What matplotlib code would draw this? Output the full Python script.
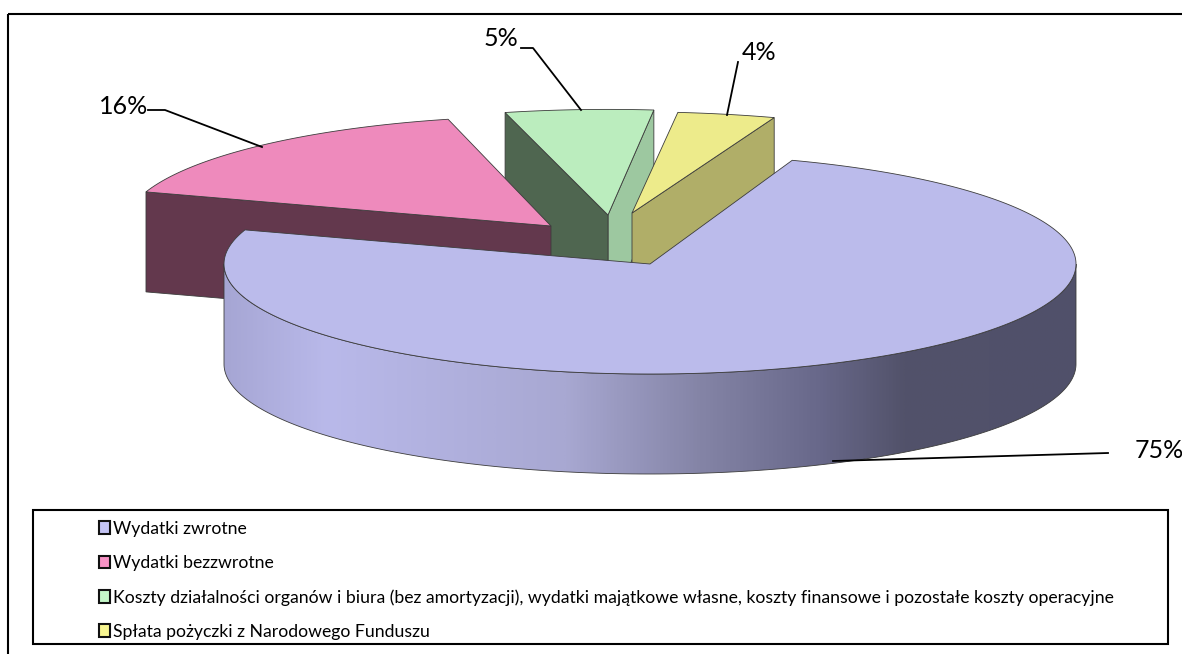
import numpy as np
import matplotlib
matplotlib.use("Agg")
import matplotlib.pyplot as plt
from matplotlib.colors import LinearSegmentedColormap
from matplotlib.patches import Polygon, Rectangle, PathPatch
from matplotlib.path import Path

plt.rcParams["font.family"] = ["Lato", "DejaVu Sans"]

# dane
kategorie = [
    "Wydatki zwrotne",
    "Wydatki bezzwrotne",
    "Koszty działalności organów i biura (bez amortyzacji), wydatki majątkowe własne, koszty finansowe i pozostałe koszty operacyjne",
    "Spłata pożyczki z Narodowego Funduszu",
]
udzialy = [74.6, 16.1, 5.6, 3.7]
etykiety = ["75%", "16%", "5%", "4%"]

# kolory: gora, sciana boczna ciecia
kolor_gora = ["#BBBBEB", "#EE8ABC", "#BBEDBE", "#EDEB8B"]
kolor_ciecie = ["#52526A", "#63384D", "#4F6650", "#B0AE68"]
kolor_ciecie2 = [None, None, "#9DC8A0", None]
kolor_legenda = ["#C4C4F5", "#F792C5", "#C4F7C8", "#F7F590"]

# wspolrzedne ekranu w pikselach
srodki = [(650, 264), (551, 226), (608, 215), (632, 213)]
skala = [1.0, 1.0, 0.96, 0.92]
A = 426
B = 110
H = 100
START = 70.5

# kąty wycinkow liczone z wartosci
katy = []
k = START
for u in udzialy:
    k2 = k - u * 3.6
    katy.append((k, k2))
    k = k2


def luk(c, s, a1, a2, dy=0, n=200):
    t = np.radians(np.linspace(a1, a2, n))
    return np.column_stack([c[0] + A * np.cos(t), c[1] - B * s * np.sin(t) + dy])


def punkt(c, s, a):
    return luk(c, s, a, a, n=1)[0]


fig = plt.figure(figsize=(11.82, 6.54), dpi=100)
ax = fig.add_axes([0, 0, 1, 1])
ax.set_xlim(0, 1182)
ax.set_ylim(654, 0)
ax.axis("off")

# ramki (zewnetrzna wychodzi poza obraz z prawej i z dolu)
ax.add_patch(Rectangle((8, 14), 1300, 700, fill=False, ec="black", lw=1.5))
ax.add_patch(Rectangle((33, 510), 1135, 134, fill=False, ec="black", lw=1.5))

krawedz = dict(ec="#3c3c3c", lw=0.6)


def sciana_ciecia(i, a, kolor):
    c, s = srodki[i], skala[i]
    p = punkt(c, s, a)
    pts = [p, c, (c[0], c[1] + H), (p[0], p[1] + H)]
    ax.add_patch(Polygon(pts, closed=True, fc=kolor, **krawedz))


def gora(i):
    c, s = srodki[i], skala[i]
    a1, a2 = katy[i]
    pts = np.vstack([[c], luk(c, s, a1, a2)])
    ax.add_patch(Polygon(pts, closed=True, fc=kolor_gora[i], **krawedz))


# wycinek 3 (zielony)
sciana_ciecia(2, katy[2][1], kolor_ciecie2[2])
sciana_ciecia(2, katy[2][0], kolor_ciecie[2])
gora(2)

# wycinek 4 (zolty)
sciana_ciecia(3, katy[3][1], kolor_ciecie[3])
gora(3)

# wycinek 2 (rozowy)
sciana_ciecia(1, katy[1][0], kolor_ciecie[1])
gora(1)

# wycinek 1: sciana z gradientem
c = srodki[0]
g = luk(c, 1, 180, 360)
d = luk(c, 1, 360, 180, dy=H)
sciana = np.vstack([g, d, g[:1]])
kody = [Path.MOVETO] + [Path.LINETO] * (len(sciana) - 2) + [Path.CLOSEPOLY]
patch = PathPatch(Path(sciana, kody), fc="none", **krawedz, zorder=2)
ax.add_patch(patch)
gradient = LinearSegmentedColormap.from_list(
    "sciana",
    [
        (0.0, "#A6A6D4"),
        (0.12, "#B9B9EA"),
        (0.40, "#A8A8D2"),
        (0.56, "#8484A6"),
        (0.70, "#68688A"),
        (0.80, "#52526A"),
        (1.0, "#50506A"),
    ],
)
im = ax.imshow(
    np.linspace(0, 1, 512).reshape(1, -1),
    cmap=gradient,
    extent=(c[0] - A, c[0] + A, c[1] + B + H, c[1]),
    aspect="auto",
    zorder=1.9,
)
im.set_clip_path(patch)
ax.set_xlim(0, 1182)
ax.set_ylim(654, 0)

p = Polygon(np.vstack([[c], luk(c, 1, katy[0][0], katy[0][1], n=600)]), closed=True,
            fc=kolor_gora[0], zorder=3, **krawedz)
ax.add_patch(p)

# linie odniesienia i etykiety
linie = [
    ([1108, 833], [453, 461]),
    ([148, 165, 262], [110, 110, 147]),
    ([521, 533, 581], [48, 48, 110]),
    ([738, 727], [62, 115]),
]
poz_etykiet = [(1135, 450), (124, 107), (501, 39), (759, 53)]
for i in range(4):
    ax.plot(linie[i][0], linie[i][1], color="black", lw=1.3, zorder=4)
    ha = "left" if i == 0 else "center"
    ax.text(poz_etykiet[i][0], poz_etykiet[i][1], etykiety[i], fontsize=18,
            ha=ha, va="center", color="black", zorder=5)

# legenda
uchwyty = [Rectangle((0, 0), 1, 1, fc=kolor_legenda[i], ec="#111111", lw=1.5) for i in range(4)]
leg = ax.legend(
    uchwyty,
    kategorie,
    loc="upper left",
    bbox_to_anchor=(99 / 1182, 1 - 521 / 654),
    bbox_transform=fig.transFigure,
    frameon=False,
    fontsize=12.7,
    handlelength=0.6,
    handleheight=0.75,
    handletextpad=0.22,
    labelspacing=1.03,
    borderpad=0,
    borderaxespad=0,
)

fig.savefig("out.png", dpi=100)
